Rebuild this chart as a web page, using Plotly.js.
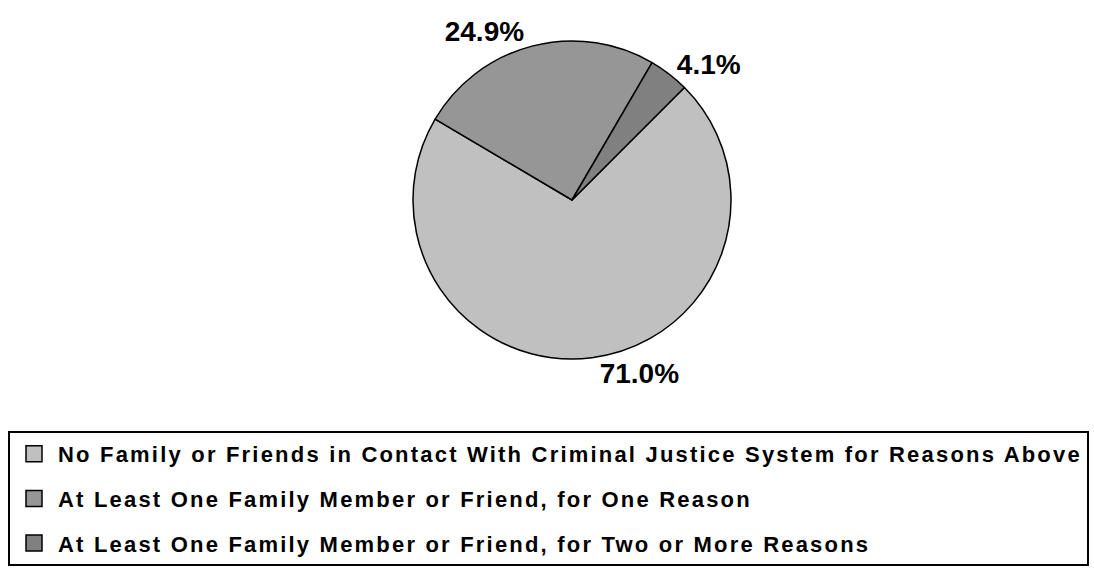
<!DOCTYPE html>
<html>
<head>
<meta charset="utf-8">
<script src="https://cdn.plot.ly/plotly-3.0.1.min.js"></script>
<style>
  html, body { margin: 0; padding: 0; background: #ffffff; }
  #chart { width: 1094px; height: 575px; }
  .legendtext { letter-spacing: 2.2px; }
</style>
</head>
<body>
<div id="chart"></div>
<script>
const categories = [
  "No Family or Friends in Contact With Criminal Justice System for Reasons Above",
  "At Least One Family Member or Friend, for One Reason",
  "At Least One Family Member or Friend, for Two or More Reasons"
];
const shares = [71.0, 24.9, 4.1];
const sliceColors = ["#c0c0c0", "#969696", "#808080"];

const W = 1094, H = 575;
const cx = 572, cy = 200, r = 159;
const FONT = "Liberation Sans, Arial, sans-serif";

const pieTrace = {
  type: "pie",
  labels: categories,
  values: shares,
  sort: false,
  direction: "clockwise",
  rotation: 45,
  showlegend: false,
  marker: { colors: sliceColors, line: { color: "#000000", width: 1.5 } },
  textposition: "outside",
  texttemplate: "%{percent:.1%}",
  outsidetextfont: { family: FONT, size: 28, color: "#000000", weight: "bold" },
  automargin: false,
  hoverinfo: "none",
  domain: { x: [(cx - r) / W, (cx + r) / W], y: [1 - (cy + r) / H, 1 - (cy - r) / H] }
};

// legend entries (one per category, same colours as the slices)
const legendTraces = categories.map(function (name, i) {
  return {
    type: "scatter",
    mode: "markers",
    x: [0],
    y: [0],
    name: name,
    legendgroup: "g" + i,
    showlegend: true,
    hoverinfo: "skip",
    marker: { symbol: "square", size: 16, color: sliceColors[i], line: { color: "#000000", width: 1.5 } }
  };
});

const layout = {
  width: W,
  height: H,
  margin: { l: 0, r: 0, t: 0, b: 0 },
  paper_bgcolor: "#ffffff",
  plot_bgcolor: "rgba(0,0,0,0)",
  xaxis: { visible: false, range: [10, 11], fixedrange: true },
  yaxis: { visible: false, range: [10, 11], fixedrange: true },
  showlegend: true,
  legend: {
    x: 8 / W,
    y: 1 - 431 / H,
    xanchor: "left",
    yanchor: "top",
    orientation: "v",
    traceorder: "grouped",
    tracegroupgap: 13,
    itemwidth: 38,
    bgcolor: "#ffffff",
    bordercolor: "#000000",
    borderwidth: 2,
    font: { family: FONT, size: 22, color: "#000000", weight: "bold" }
  }
};

Plotly.newPlot("chart", legendTraces.concat([pieTrace]), layout, { displayModeBar: false, staticPlot: true });
</script>
</body>
</html>
